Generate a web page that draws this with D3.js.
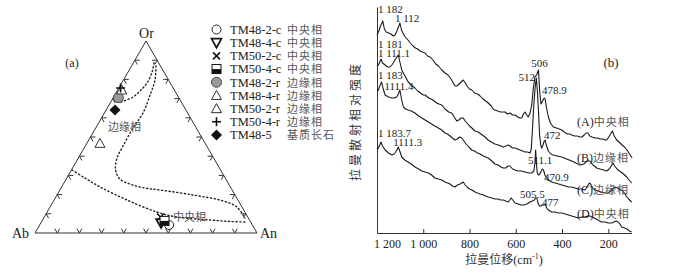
<!DOCTYPE html>
<meta charset="utf-8">
<style>
body { margin: 0; background: #fff; }
svg { display: block; font-family: "Liberation Serif", "Noto Sans CJK SC", serif; fill: #222; }
.zh { font-family: "Noto Sans CJK SC", sans-serif; fill: #555; }
.edge { fill: none; stroke: #333; stroke-width: 1; }
.dots { fill: none; stroke: #222; stroke-width: 1.4; stroke-dasharray: 1.2 2.6; stroke-linecap: round; }
.spec { fill: none; stroke: #1a1a1a; stroke-width: 1.1; stroke-linejoin: round; }
.axis path, .axis line { stroke: #333; }
.axis text { font-family: "Liberation Serif", serif; font-size: 12px; fill: #222; }
</style>
<body>
<script src="https://cdn.jsdelivr.net/npm/d3@7"></script>
<script>

// ---- (a) ternary Or-Ab-An ----
var samples = ["TM48-2-c", "TM48-4-c", "TM50-2-c", "TM50-4-c", "TM48-2-r", "TM48-4-r", "TM50-2-r", "TM50-4-r", "TM48-5"];
var facies = ["中央相", "中央相", "中央相", "中央相", "边缘相", "边缘相", "边缘相", "边缘相", "基质长石"];
var symbols = ["circle", "triDown", "cross", "halfSquare", "greyCircle", "triUp", "triUp", "plus", "diamond"];
var orPct = [4.2, 5.2, 8.3, 6.3, 70.5, 74.5, 46.7, 75.5, 64.1];
var anPct = [58.3, 54.2, 52.4, 55.2, 2.3, 1.8, 5.9, 0.8, 4.0];

// dotted field boundaries, [Or, An]
var curve1 = [[68.2, 4.6], [70.8, 8.7], [74.5, 10.5], [78.1, 11.4], [83.9, 10.8], [89.5, 9.0]];
var curve2 = [[87, 11], [79.7, 14.2], [71.9, 15.9], [62.5, 17.4], [54.7, 16.8], [45.3, 17.0], [39.1, 17.4],
  [32.8, 19.9], [28.1, 24.2], [25.5, 30], [23.4, 37.8], [22.4, 45.1], [19.8, 61.3], [16.7, 76.4], [13.5, 84.2], [7.8, 90.7]];
var curve3 = [[32.8, 0.3], [28.6, 8.2], [24.0, 17.3], [17.2, 32.8], [10.9, 49.5], [8.3, 59.8], [6.8, 75.4], [6.0, 84.8], [5.7, 92.6]];
var tickPct = [10, 20, 30, 40, 50, 60, 70, 80, 90];

// ---- (b) Raman spectra, [wavenumber, relative intensity] ----
var specA = [[1200,198],[1192,202],[1185,207],[1175,212],[1168,204],[1160,201],[1150,200],[1140,199],[1130,197],[1122,198],[1114,202],[1107,206],[1101,210],[1094,203],[1088,200],[1078,196],[1066,193],[1056,190],[1044,187],[1034,185],[1024,184],[1014,182],[1004,181],[992,180],[982,177],[970,176],[958,173],[946,169],[934,167],[920,163],[906,160],[893,158],[880,154],[870,150],[863,147],[854,147],[845,149],[836,151],[827,153],[818,150],[811,147],[800,144],[790,143],[778,140],[766,139],[754,137],[742,134],[730,132],[719,130],[706,127],[698,124],[690,123],[678,122],[666,121],[655,121],[646,121],[636,119],[624,120],[614,118],[603,118],[592,116],[582,115],[574,115],[567,119],[560,121],[553,118],[546,116],[538,120],[531,128],[524,145],[517,156],[510,158],[502,163],[496,140],[491,129],[484,132],[477,135],[473,134],[467,125],[459,116],[450,110],[438,106],[424,105],[412,104],[401,103],[390,101],[378,99],[366,99],[358,98],[346,97],[334,97],[322,96],[314,96],[304,98],[296,100],[288,100],[280,97],[270,96],[257,95],[246,95],[236,94],[224,94],[214,93],[207,93],[198,96],[190,99],[182,102],[174,97],[164,93],[154,91],[149,90],[140,88],[130,86],[119,83],[108,79],[97,75]];
var specB = [[1200,167],[1194,168],[1188,171],[1183,174],[1176,170],[1165,168],[1155,166],[1144,166],[1136,168],[1130,170],[1120,174],[1108,178],[1100,170],[1093,163],[1079,157],[1065,151],[1052,148],[1036,145],[1024,142],[1012,140],[1000,138],[992,138],[976,135],[958,133],[942,130],[932,129],[920,128],[906,124],[890,121],[877,120],[866,116],[855,112],[846,113],[836,115],[827,115],[819,112],[811,110],[800,107],[790,105],[776,102],[763,101],[750,99],[733,96],[720,93],[706,91],[690,89],[675,88],[664,87],[654,86],[642,87],[632,88],[625,87],[614,85],[603,85],[592,84],[582,83],[570,82],[560,81],[549,81],[538,80],[533,84],[528,103],[522,128],[516,146],[511,155],[506,140],[501,118],[497,98],[492,88],[488,85],[482,88],[477,92],[473,93],[468,88],[459,82],[448,79],[438,78],[420,77],[401,76],[380,74],[358,72],[340,70],[322,68],[306,69],[292,72],[279,72],[266,68],[250,65],[236,64],[220,63],[207,62],[196,64],[187,67],[180,70],[172,67],[162,64],[152,62],[145,61],[134,59],[120,56],[110,53],[99,50]];
var specC = [[1200,142],[1194,143],[1188,147],[1180,151],[1173,144],[1165,138],[1150,136],[1136,135],[1126,135],[1115,136],[1108,139],[1101,143],[1094,134],[1086,126],[1076,124],[1066,123],[1052,122],[1036,120],[1020,117],[1006,115],[992,113],[978,111],[964,109],[950,107],[935,105],[920,103],[906,100],[895,99],[884,97],[874,95],[863,93],[853,94],[843,96],[834,95],[824,92],[815,89],[803,86],[790,83],[778,82],[766,80],[754,79],[740,77],[730,76],[719,75],[704,72],[690,69],[676,68],[665,66],[654,65],[643,65],[634,67],[625,67],[614,64],[603,63],[590,62],[575,62],[560,61],[545,60],[531,60],[522,62],[517,70],[514,83],[511,70],[507,60],[502,58],[496,59],[490,62],[484,64],[480,63],[474,58],[466,55],[459,53],[445,51],[430,50],[415,49],[401,48],[386,47],[372,46],[358,46],[344,45],[330,44],[316,44],[301,43],[292,46],[285,49],[279,50],[272,47],[264,44],[257,43],[245,42],[230,41],[213,40],[200,40],[190,42],[180,44],[170,46],[160,45],[149,43],[142,43],[130,40],[123,37],[112,34],[99,31]];
var specD = [[1200,84],[1194,85],[1188,88],[1183,91],[1176,87],[1165,83],[1150,80],[1136,78],[1126,79],[1122,80],[1114,83],[1108,86],[1100,81],[1093,76],[1080,73],[1066,71],[1052,69],[1036,66],[1020,64],[1006,62],[992,61],[978,60],[964,58],[950,55],[935,54],[920,53],[906,51],[895,50],[884,49],[874,47],[863,46],[852,48],[841,49],[834,50],[827,51],[819,48],[811,46],[800,44],[790,43],[776,41],[766,40],[754,39],[740,38],[730,37],[719,36],[704,35],[690,34],[676,34],[666,33],[654,33],[644,32],[633,31],[626,33],[620,35],[613,33],[603,30],[590,29],[578,28],[565,28],[552,29],[538,31],[528,32],[520,33],[513,35],[509,35],[504,30],[498,27],[492,27],[486,28],[479,28],[473,29],[466,25],[459,23],[445,21],[430,21],[415,20],[401,20],[386,19],[372,18],[358,17],[344,16],[329,15],[315,16],[301,16],[288,17],[279,17],[272,16],[260,15],[245,13],[228,11],[213,11],[200,10],[185,10],[176,11],[166,12],[157,11],[150,9],[142,6],[130,5],[119,4],[108,2],[99,1]];
var spectra = [specA, specB, specC, specD];

// peak labels: [text, wavenumber, intensity, anchor]
var peakLabels = [["1 182", 1196, 220, "start"], ["1 112", 1122, 211, "start"],
  ["1 181", 1196, 185, "start"], ["1 111.1", 1196, 176, "start"],
  ["1 183", 1196, 154, "start"], ["1111.4", 1168, 143, "start"],
  ["1 183.7", 1196, 96, "start"], ["1111.3", 1130, 87, "start"],
  ["506", 497, 166, "middle"], ["512", 517, 152, "end"], ["478.9", 487, 139, "start"],
  ["472", 478, 94, "start"], ["511.1", 547, 69, "start"], ["470.9", 478, 52, "start"],
  ["505.5", 582, 35, "start"], ["477", 487, 27, "start"]];
var curveNames = ["(A)", "(B)", "(C)", "(D)"];
var curveFacies = ["中央相", "边缘相", "边缘相", "中央相"];
var curveLabelI = [107, 71, 39, 15];
var xTicks = [1200, 1000, 800, 600, 400, 200];

var svg = d3.select("body").append("svg")
    .attr("width", 700)
    .attr("height", 278);

// ---------- panel (a) ----------
var tx = d3.scaleLinear().domain([0, 100]).range([35, 257]);
var ty = d3.scaleLinear().domain([0, 100]).range([233, 41]);
function tern(or, an) { return [tx(an + or / 2), ty(or)]; }

var ga = svg.append("g");
ga.append("path").attr("class", "edge")
    .attr("d", d3.line()([tern(0, 0), tern(0, 100), tern(100, 0)]) + "Z");

// chevron ticks on the three sides
var tk = 5, c60 = 0.5, s60 = 0.866;
tickPct.forEach(function(t) {
  var p = tern(0, t);
  ga.append("path").attr("class", "edge")
      .attr("d", "M" + (p[0] - tk * c60) + "," + (p[1] - tk * s60) + "L" + p[0] + "," + p[1] + "L" + (p[0] + tk * c60) + "," + (p[1] - tk * s60));
  p = tern(t, 0);
  ga.append("path").attr("class", "edge")
      .attr("d", "M" + (p[0] + tk) + "," + p[1] + "L" + p[0] + "," + p[1] + "L" + (p[0] + tk * c60) + "," + (p[1] + tk * s60));
  p = tern(t, 100 - t);
  ga.append("path").attr("class", "edge")
      .attr("d", "M" + (p[0] - tk) + "," + p[1] + "L" + p[0] + "," + p[1] + "L" + (p[0] - tk * c60) + "," + (p[1] + tk * s60));
});

var tline = d3.line()
    .x(function(d) { return tern(d[0], d[1])[0]; })
    .y(function(d) { return tern(d[0], d[1])[1]; })
    .curve(d3.curveCatmullRom);
[curve1, curve2, curve3].forEach(function(c) {
  ga.append("path").attr("class", "dots").attr("d", tline(c));
});

ga.append("text").attr("x", 146.5).attr("y", 38).attr("text-anchor", "middle").style("font-size", "14px").text("Or");
ga.append("text").attr("x", 12).attr("y", 238).style("font-size", "14px").text("Ab");
ga.append("text").attr("x", 260).attr("y", 238).style("font-size", "14px").text("An");
ga.append("text").attr("x", 72).attr("y", 67).attr("text-anchor", "middle").style("font-size", "12px").text("(a)");
ga.append("text").attr("class", "zh").attr("x", 108).attr("y", 131).style("font-size", "11px").text("边缘相");
ga.append("text").attr("class", "zh").attr("x", 173).attr("y", 221).style("font-size", "11px").text("中央相");

function drawSym(g, type, x, y) {
  if (type == "circle") {
    g.append("circle").attr("cx", x).attr("cy", y).attr("r", 4.5).attr("fill", "#fff").attr("stroke", "#222").attr("stroke-width", 1);
  } else if (type == "greyCircle") {
    g.append("circle").attr("cx", x).attr("cy", y).attr("r", 5).attr("fill", "#9a9a9a").attr("stroke", "#444").attr("stroke-width", 1);
  } else if (type == "triDown") {
    g.append("path").attr("d", "M" + (x - 5) + "," + (y - 4) + "L" + (x + 5) + "," + (y - 4) + "L" + x + "," + (y + 5) + "Z")
        .attr("fill", "#fff").attr("stroke", "#111").attr("stroke-width", 1.7);
  } else if (type == "triUp") {
    g.append("path").attr("d", "M" + (x - 5) + "," + (y + 4) + "L" + (x + 5) + "," + (y + 4) + "L" + x + "," + (y - 5) + "Z")
        .attr("fill", "#fff").attr("stroke", "#333").attr("stroke-width", 1);
  } else if (type == "cross") {
    g.append("path").attr("d", "M" + (x - 3.5) + "," + (y - 3.5) + "L" + (x + 3.5) + "," + (y + 3.5) + "M" + (x + 3.5) + "," + (y - 3.5) + "L" + (x - 3.5) + "," + (y + 3.5))
        .attr("stroke", "#111").attr("stroke-width", 1.5);
  } else if (type == "plus") {
    g.append("path").attr("d", "M" + (x - 4.5) + "," + y + "L" + (x + 4.5) + "," + y + "M" + x + "," + (y - 4.5) + "L" + x + "," + (y + 4.5))
        .attr("stroke", "#111").attr("stroke-width", 1.6);
  } else if (type == "halfSquare") {
    g.append("rect").attr("x", x - 4.5).attr("y", y - 4.5).attr("width", 9).attr("height", 9).attr("fill", "#fff").attr("stroke", "#111").attr("stroke-width", 1);
    g.append("rect").attr("x", x - 4.5).attr("y", y).attr("width", 9).attr("height", 4.5).attr("fill", "#111");
  } else if (type == "diamond") {
    g.append("path").attr("d", "M" + x + "," + (y - 5.5) + "L" + (x + 5.5) + "," + y + "L" + x + "," + (y + 5.5) + "L" + (x - 5.5) + "," + y + "Z")
        .attr("fill", "#111");
  }
}

samples.forEach(function(s, i) {
  var p = tern(orPct[i], anPct[i]);
  drawSym(ga, symbols[i], p[0], p[1]);
});

// legend
var legY = d3.scaleLinear().domain([0, 8]).range([29.5, 135]);
samples.forEach(function(s, i) {
  var y = legY(i);
  drawSym(svg, symbols[i], 216.5, y);
  svg.append("text").attr("x", 230).attr("y", y + 4.3).style("font-size", "12.5px").text(s);
  svg.append("text").attr("class", "zh").attr("x", 287).attr("y", y + 4.3)
      .style("font-size", "11px").style("letter-spacing", "1px").text(facies[i]);
});

// ---------- panel (b) ----------
var xS = d3.scaleLinear().domain([1200, 100]).range([377, 631.4]);
var yS = d3.scaleLinear().domain([0, 226]).range([233, 7]);

var gb = svg.append("g");
var xAxis = gb.append("g").attr("class", "axis")
    .attr("transform", "translate(0," + yS(0) + ")")
    .call(d3.axisBottom(xS).tickValues(xTicks).tickSizeInner(-4).tickSizeOuter(0).tickPadding(6)
      .tickFormat(function(d) { return d >= 1000 ? "1 " + d3.format("03d")(d - 1000) : d; }));
xAxis.selectAll(".tick").filter(function(d) { return d == 1200; }).select("text").attr("dx", 10);
xAxis.selectAll(".tick").filter(function(d) { return d == 1200; }).select("line").remove();

gb.append("g").attr("class", "axis")
    .attr("transform", "translate(" + xS(1200) + ",0)")
    .call(d3.axisLeft(yS).tickValues([]).tickSizeOuter(0));

var sline = d3.line()
    .x(function(d) { return xS(d[0]); })
    .y(function(d) { return yS(d[1]); });
spectra.forEach(function(s) {
  gb.append("path").attr("class", "spec").attr("d", sline(s));
});

peakLabels.forEach(function(p) {
  gb.append("text").attr("x", xS(p[1])).attr("y", yS(p[2]))
      .attr("text-anchor", p[3]).style("font-size", "11px").text(p[0]);
});

curveNames.forEach(function(n, i) {
  var t = gb.append("text").attr("x", xS(335)).attr("y", yS(curveLabelI[i])).style("font-size", "12px");
  t.append("tspan").text(n);
  t.append("tspan").attr("class", "zh").style("font-size", "11px").style("letter-spacing", "1px").text(curveFacies[i]);
});

gb.append("text").attr("x", 611).attr("y", 67).attr("text-anchor", "middle").style("font-size", "13px").text("(b)");

gb.append("text").attr("class", "zh")
    .attr("transform", "translate(360,121) rotate(-90)")
    .attr("text-anchor", "middle").style("font-size", "12px").style("letter-spacing", "3px").style("fill", "#333")
    .text("拉曼散射相对强度");

var xt = gb.append("text").attr("x", 504).attr("y", 264).attr("text-anchor", "middle").style("font-size", "12px");
xt.append("tspan").attr("class", "zh").style("fill", "#333").text("拉曼位移");
xt.append("tspan").text("(cm");
xt.append("tspan").attr("dy", -5).style("font-size", "8px").text("-1");
xt.append("tspan").attr("dy", 5).text(")");

</script>
